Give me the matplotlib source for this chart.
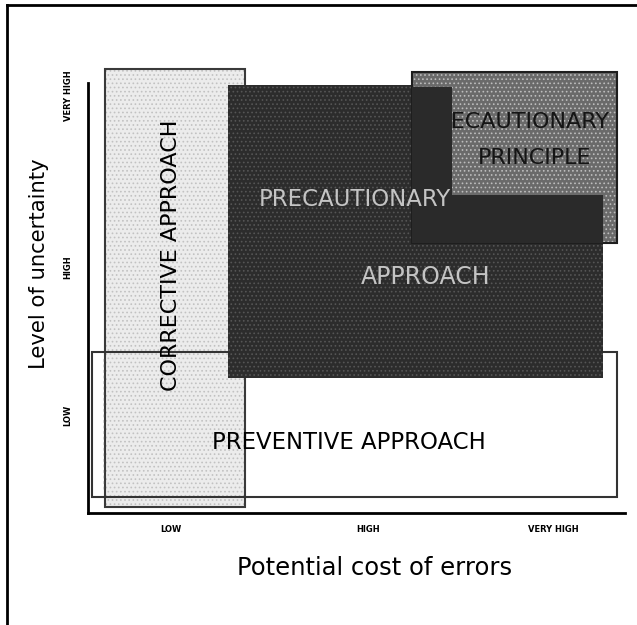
import matplotlib.pyplot as plt
from matplotlib.patches import Rectangle
from matplotlib.lines import Line2D

# levels shown on the two axes
cost_labels = ["LOW", "HIGH", "VERY HIGH"]
cost_ticks = [15.5, 52.1, 86.6]
uncert_labels = ["LOW", "HIGH", "VERY HIGH"]
uncert_ticks = [22.6, 57.2, 97.0]

# regions: (cost from, cost to, uncertainty from, uncertainty to)
corrective = (3.2, 29.2, 1.4, 103.3)
preventive = (0.8, 98.5, 3.7, 37.4)
prec_approach = (26.1, 95.9, 31.4, 99.5)
prec_principle = (60.3, 98.5, 62.8, 102.6)
# parts of the approach box that lie on top of the principle box
overlap_left = (60.3, 67.8, 74.0, 99.1)
overlap_bottom = (60.3, 95.9, 62.8, 74.0)

plt.rcParams['hatch.linewidth'] = 0.7


def box(ax, r, face, edge="none", lw=0, hatch=None, hcol=None, z=1):
    x0, x1, y0, y1 = r
    xy, w, h = (x0, y0), x1 - x0, y1 - y0
    p = Rectangle(xy, w, h, facecolor=face, edgecolor="none", lw=0, zorder=z)
    ax.add_patch(p)
    if hatch:
        ax.add_patch(Rectangle(xy, w, h, facecolor="none", edgecolor=hcol,
                               lw=0, hatch=hatch, zorder=z))
    if edge != "none":
        ax.add_patch(Rectangle(xy, w, h, facecolor="none", edgecolor=edge,
                               lw=lw, zorder=z))
    return p


W, H = 637, 625
fig = plt.figure(figsize=(W / 100, H / 100), dpi=100)
ax = fig.add_axes([88 / W, 1 - 513 / H, (625 - 88) / W, (513 - 60) / H])
ax.set_xlim(0, 100)
ax.set_ylim(0, 105.3)

# corrective approach (light speckled)
box(ax, corrective, "#ececec", "#3a3a3a", 1.5, "....", "#c2c2c2", 1)

# preventive approach (outline only)
box(ax, preventive, "none", "#333333", 1.5, z=2)

# precautionary approach (dark speckled)
box(ax, prec_approach, "#2c2c2c", hatch="....", hcol="#555555", z=3)

# precautionary principle (mixed grey)
pp = box(ax, prec_principle, "#6a6a6a", "#1e1e1e", 1.5, "....", "#bdbdbd", 4)
for txt, x, y in [("PRECAUTIONARY", 79.7, 90.9), ("PRINCIPLE", 83.2, 82.6)]:
    t = ax.text(x, y, txt, ha="center", va="center", fontsize=16,
                color="#151515", zorder=4.5)
    t.set_clip_path(pp)

box(ax, overlap_left, "#2a2a2a", z=5)
box(ax, overlap_bottom, "#2a2a2a", z=5)
ax.text(49.7, 72.8, "PRECAUTIONARY", ha="center", va="center",
        fontsize=16.5, color="#c4c4c4", zorder=6)
ax.text(62.8, 54.9, "APPROACH", ha="center", va="center", fontsize=17,
        color="#c4c4c4", zorder=6)

ax.text(15.5, 60.0, "CORRECTIVE APPROACH", rotation=90, ha="center",
        va="center", fontsize=16, color="black", zorder=6)
ax.text(48.6, 16.5, "PREVENTIVE APPROACH", ha="center", va="center",
        fontsize=16.4, color="black", zorder=6)

# faded dashed stroke inside the corrective box
ax.plot([3.0, 3.0], [5.5, 36.0], ls=(0, (2, 2)), color="#444444", lw=1,
        zorder=2)

# axes
for s in ["top", "right"]:
    ax.spines[s].set_visible(False)
ax.spines["left"].set_bounds(0, 100)
ax.spines["left"].set_linewidth(2)
ax.spines["bottom"].set_linewidth(2)
ax.set_xticks(cost_ticks)
ax.set_xticklabels(cost_labels, fontsize=6, fontweight="bold")
ax.set_yticks(uncert_ticks)
ax.set_yticklabels(uncert_labels, fontsize=6, fontweight="bold",
                   rotation=90, va="center")
ax.tick_params(length=0, pad=9)
ax.tick_params(axis="y", pad=11)

fig.text(374.5 / W, 1 - 568 / H, "Potential cost of errors", fontsize=17.5,
         ha="center", va="center")
fig.text(39 / W, 1 - 264 / H, "Level of uncertainty", fontsize=15.2,
         rotation=90, ha="center", va="center")

# frame around the picture
fig.add_artist(Line2D([7 / W, 7 / W], [0, 1 - 5 / H], color="black", lw=2,
                      transform=fig.transFigure))
fig.add_artist(Line2D([7 / W, 1], [1 - 5 / H, 1 - 5 / H], color="black",
                      lw=2, transform=fig.transFigure))

fig.savefig("out.png", dpi=100)
